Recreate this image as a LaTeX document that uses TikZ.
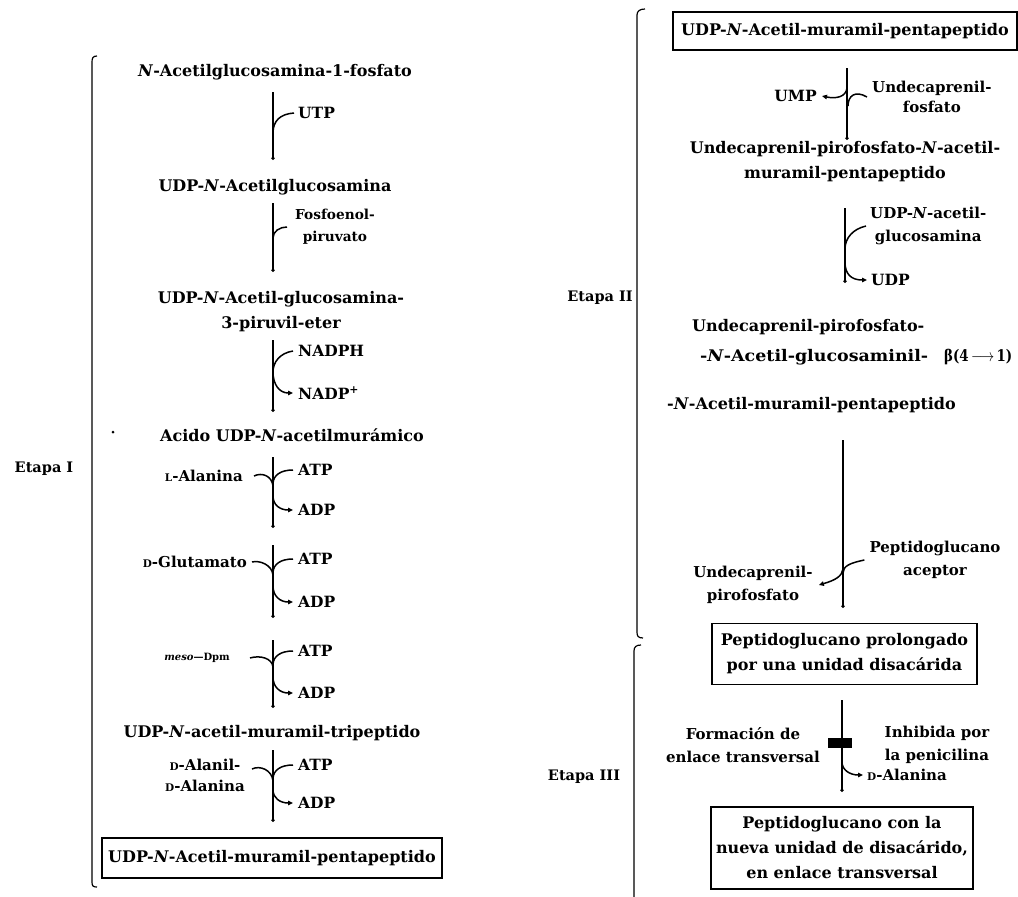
\documentclass[tikz,border=0pt]{standalone}
\usepackage{fontspec}
\setmainfont{DejaVu Serif}
\usetikzlibrary{arrows.meta}
\newcommand\cmpfont{\fontsize{16}{25}\selectfont\bfseries}
\newcommand\capfont{\fontsize{15.5}{22}\selectfont\bfseries}
\newcommand\sidefont{\fontsize{15}{23}\selectfont\bfseries}
\newcommand\smallfont{\fontsize{13.7}{21}\selectfont\bfseries}
\newcommand\smc[1]{{\fontsize{10.5}{10}\selectfont #1}}
\newcommand\fitw[2]{\resizebox{#1pt}{\height}{#2}}
\tikzset{
  cmp/.style={inner sep=0pt, font=\cmpfont, align=center},
  capl/.style={inner sep=0pt, font=\capfont},
  lbl/.style={inner sep=0pt, font=\sidefont, align=center},
  slbl/.style={inner sep=0pt, font=\smallfont, align=center},
  stage/.style={inner sep=0pt, font=\fontsize{14.5}{20}\selectfont\bfseries},
  boxed/.style={draw, line width=1.3pt, inner sep=0pt, font=\cmpfont, align=center},
  flow/.style={line width=1.1pt, -{Circle[length=3.5pt]}},
  feed/.style={line width=1.5pt},
  yield/.style={line width=1.5pt, -{Triangle[length=5pt,width=4.5pt]}},
  brace/.style={line width=1.2pt}
}
\begin{document}
\begin{tikzpicture}[x=1pt,y=-1pt]
\useasboundingbox (0,0) rectangle (1018,897);

% ---------------- Etapa I ----------------
\draw[brace] (97,56) .. controls (93,56) and (92,58) .. (92,62) -- (92,882)
  .. controls (92,886) and (93,887) .. (97,887);
\node[stage] (etapa1) at (44,469) {Etapa I};

\node[cmp] (glcnac1p) at (275,72) {\textit{N}-Acetilglucosamina-1-fosfato};
\node[cmp] (udpglcnac) at (275,187) {UDP-\textit{N}-Acetilglucosamina};
\node[cmp] (enolpyr) at (281,312) {UDP-\textit{N}-Acetil-glucosamina-\\3-piruvil-eter};
\node[cmp] (murnac) at (292,435) {Acido UDP-\textit{N}-acetilmurámico};
\node[cmp] (tripep) at (272,733) {UDP-\textit{N}-acetil-muramil-tripeptido};
\node[boxed, minimum width=340pt, minimum height=40pt] (pentaL) at (272,858)
  {UDP-\textit{N}-Acetil-muramil-pentapeptido};
\fill (113,432) circle (1.5pt);

% main flow, step by step
\coordinate (l1a) at (273,92);  \coordinate (l1b) at (273,160);
\coordinate (l2a) at (273,203); \coordinate (l2b) at (273,272);
\coordinate (l3a) at (273,340); \coordinate (l3b) at (273,412);
\coordinate (l4a) at (273,457); \coordinate (l4b) at (273,528);
\coordinate (l5a) at (273,545); \coordinate (l5b) at (273,618);
\coordinate (l6a) at (273,640); \coordinate (l6b) at (273,708);
\coordinate (l7a) at (273,750); \coordinate (l7b) at (273,822);
\foreach \i in {1,...,7} \draw[flow] (l\i a) -- (l\i b);

% UTP
\node[capl, anchor=west] (utp) at (298,113) {UTP};
\draw[feed] (273,133) .. controls (273,121) and (280,114) .. ([xshift=-4pt]utp.west);

% fosfoenolpiruvato
\node[slbl] (pep) at (335,227) {Fosfoenol-\\[1pt]piruvato};
\draw[feed] (273,238) .. controls (273,231) and (280,227) .. ([xshift=-8pt]pep.west);

% NADPH / NADP+
\node[capl, anchor=west] (nadph) at (298,351) {NADPH};
\node[capl, anchor=west] (nadp) at (298,393) {NADP\textsuperscript{+}};
\draw[yield] ([xshift=-5pt]nadph.west) .. controls (280,353) and (273,362) .. (273,372)
  .. controls (273,384) and (279,393) .. ([xshift=-5pt]nadp.west);

% L-alanina
\node[lbl, anchor=east] (lala) at (243,476) {\smc{L}-Alanina};
\node[capl, anchor=west] (atp1) at (298,470) {ATP};
\node[capl, anchor=west] (adp1) at (298,510) {ADP};
\draw[feed] ([xshift=-5pt]atp1.west) .. controls (281,470) and (273,475) .. (273,484);
\draw[feed] ([xshift=11pt]lala.east) .. controls (262,472) and (272,476) .. (273,486);
\draw[yield] (273,496) .. controls (273,505) and (280,510) .. ([xshift=-5pt]adp1.west);

% D-glutamato
\node[lbl, anchor=east] (dglu) at (247,562) {\smc{D}-Glutamato};
\node[capl, anchor=west] (atp2) at (298,559) {ATP};
\node[capl, anchor=west] (adp2) at (298,602) {ADP};
\draw[feed] ([xshift=-5pt]atp2.west) .. controls (281,559) and (273,564) .. (273,573);
\draw[feed] ([xshift=5pt]dglu.east) .. controls (260,560) and (272,565) .. (273,575);
\draw[yield] (273,586) .. controls (273,596) and (280,602) .. ([xshift=-5pt]adp2.west);

% meso-diaminopimelato
\node[inner sep=0pt, font=\fontsize{10}{12}\selectfont\bfseries, anchor=east] (dpm) at (230,658)
  {\textit{meso}---Dpm};
\node[capl, anchor=west] (atp3) at (298,651) {ATP};
\node[capl, anchor=west] (adp3) at (298,693) {ADP};
\draw[feed] ([xshift=-5pt]atp3.west) .. controls (281,651) and (273,656) .. (273,665);
\draw[feed] ([xshift=20pt]dpm.east) .. controls (260,655) and (272,658) .. (273,667);
\draw[yield] (273,677) .. controls (273,687) and (280,693) .. ([xshift=-5pt]adp3.west);

% D-alanil-D-alanina
\node[lbl] (dala2) at (205,775) {\smc{D}-Alanil-\\[-2pt]\smc{D}-Alanina};
\node[capl, anchor=west] (atp4) at (298,765) {ATP};
\node[capl, anchor=west] (adp4) at (298,803) {ADP};
\draw[feed] ([xshift=-5pt]atp4.west) .. controls (281,765) and (273,770) .. (273,779);
\draw[feed] (252,769) .. controls (260,765) and (272,770) .. (273,781);
\draw[yield] (273,790) .. controls (273,798) and (280,803) .. ([xshift=-5pt]adp4.west);

% ---------------- Etapa II ----------------
\draw[brace] (645,9) .. controls (640,9) and (637,11) .. (637,15) -- (637,632)
  .. controls (637,636) and (638,638) .. (643,638);
\node[stage] (etapa2) at (600,298) {Etapa II};

\node[boxed, minimum width=344pt, minimum height=38pt] (pentaR) at (845,31)
  {UDP-\textit{N}-Acetil-muramil-pentapeptido};
\node[capl, anchor=east] (ump) at (817,96) {UMP};
\node[lbl, anchor=west] (undp) at (872,97) {Undecaprenil-\\[-3pt]fosfato};
\coordinate (r1a) at (847,68); \coordinate (r1b) at (847,140);
\draw[flow] (r1a) -- (r1b);
\draw[feed] ([xshift=-5pt]undp.west) .. controls (855,90) and (848,96) .. (848,106);
\draw[yield] (847,88) .. controls (846,97) and (836,99) .. ([xshift=5pt]ump.east);

\node[cmp] (lipid1) at (845,162)
  {Undecaprenil-pirofosfato-\textit{N}-acetil-\\muramil-pentapeptido};
\coordinate (r2a) at (845,208); \coordinate (r2b) at (845,283);
\draw[flow] (r2a) -- (r2b);
\node[lbl, anchor=west] (udpg) at (870,226) {UDP-\textit{N}-acetil-\\glucosamina};
\node[capl, anchor=west] (udp) at (871,280) {UDP};
\draw[yield] ([xshift=-4pt]udpg.west) .. controls (853,229) and (845,238) .. (845,249)
  -- (845,262) .. controls (845,274) and (851,280) .. ([xshift=-4pt]udp.west);

\node[cmp, anchor=west] (lipid2a) at (692,327) {Undecaprenil-pirofosfato-};
\node[cmp, anchor=west] (lipid2b) at (700,357) {\fitw{228}{-\textit{N}-Acetil-glucosaminil-}};
\node[cmp, anchor=west] (link) at (944,357) {\fitw{68}{β(4\,$\longrightarrow$\,1)}};
\node[cmp, anchor=west] (lipid2c) at (667,405) {-\textit{N}-Acetil-muramil-pentapeptido};

\coordinate (r3a) at (843,440); \coordinate (r3b) at (843,608);
\draw[flow] (r3a) -- (r3b);
\node[lbl] (accept) at (935,560) {Peptidoglucano\\aceptor};
\node[lbl] (undpp) at (753,585) {Undecaprenil-\\pirofosfato};
\draw[feed] ([xshift=-5pt]accept.west) .. controls (850,563) and (843,566) .. (843,573);
\draw[yield] (843,569) .. controls (842,576) and (836,580) .. ([xshift=6pt]undpp.east);

\node[boxed, minimum width=265pt, minimum height=61pt] (prolong) at (844.5,654)
  {Peptidoglucano prolongado\\por una unidad disacárida};

% ---------------- Etapa III ----------------
\draw[brace] (641,645) .. controls (636,645) and (634,647) .. (634,651) -- (634,902);
\node[stage] (etapa3) at (584,777) {Etapa III};

\coordinate (r4a) at (842,700); \coordinate (r4b) at (842,792);
\draw[flow] (r4a) -- (r4b);
\node[fill, minimum width=24pt, minimum height=10pt, inner sep=0pt] (block) at (840,743) {};
\node[lbl, anchor=east] (cross) at (820,745) {Formación de\\enlace transversal};
\node[lbl] (penic) at (937,745) {Inhibida por\\la penicilina};
\node[lbl, anchor=west] (dala) at (867,775) {\smc{D}-Alanina};
\draw[yield] (842,762) .. controls (842,770) and (850,775) .. ([xshift=-4pt]dala.west);

\node[boxed, minimum width=262pt, minimum height=82pt] (final) at (842,848)
  {Peptidoglucano con la\\nueva unidad de disacárido,\\en enlace transversal};
\end{tikzpicture}
\end{document}
